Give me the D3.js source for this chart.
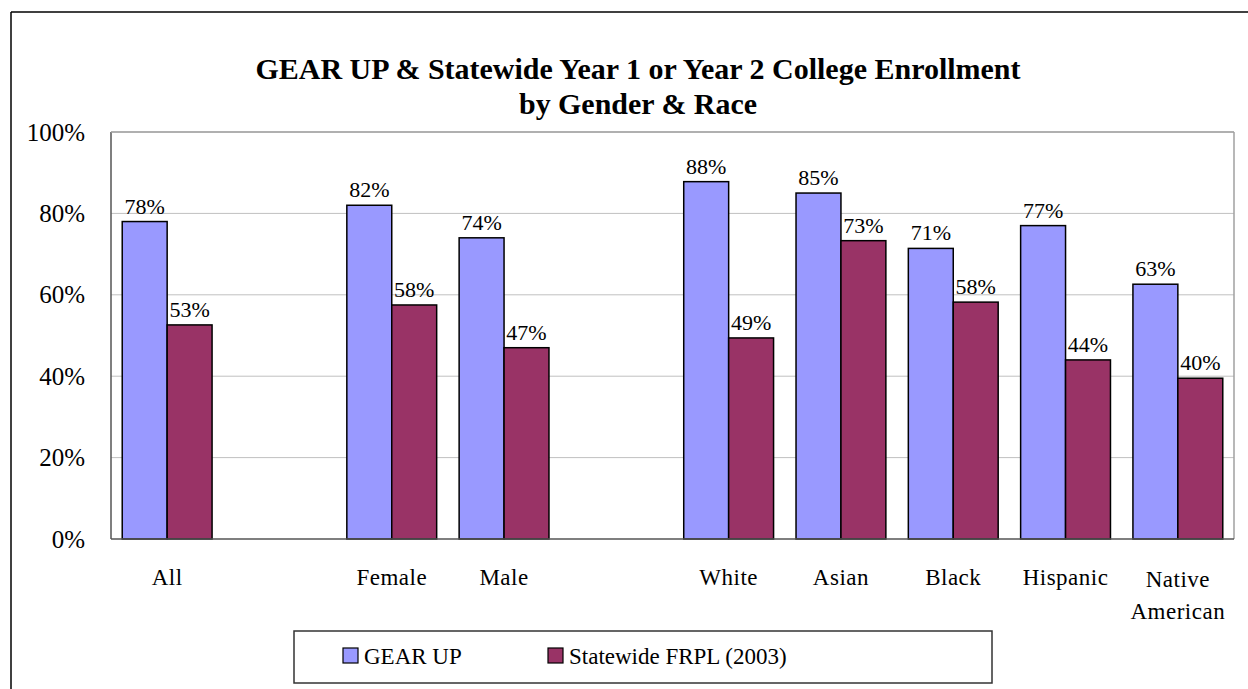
<!DOCTYPE html>
<html>
<head>
<meta charset="utf-8">
<script src="https://cdn.jsdelivr.net/npm/d3@7"></script>
<style>
  html, body { margin: 0; padding: 0; background: #fff; }
  svg { display: block; font-family: 'Liberation Serif', serif; }
  svg text { font-family: 'Liberation Serif', serif; fill: #000; }
</style>
</head>
<body>
<svg id="chart" width="1248" height="689"></svg>
<script>
// ---- data ----
const categories = ["All", "", "Female", "Male", "", "White", "Asian", "Black", "Hispanic", "Native American"];
const gearUp    = [78, null, 82, 74, null, 87.8, 85, 71.4, 77, 62.6];
const statewide = [52.6, null, 57.5, 47, null, 49.4, 73.3, 58.2, 44, 39.5];
const seriesNames = ["GEAR UP", "Statewide FRPL (2003)"];
const seriesColors = ["#9999FF", "#993366"];
const yTicks = [0, 20, 40, 60, 80, 100];
const titleLines = ["GEAR UP & Statewide Year 1 or Year 2 College Enrollment", "by Gender & Race"];

// ---- layout ----
const FONT = "'Liberation Serif', serif";
const svg = d3.select("#chart");
const plot = { left: 111, right: 1234, top: 132, bottom: 539 };

const x = d3.scaleBand()
  .domain(d3.range(categories.length))
  .range([plot.left, plot.right])
  .paddingInner(0.2)
  .paddingOuter(0.1);
const xs = d3.scaleBand()
  .domain(d3.range(seriesNames.length))
  .range([0, x.bandwidth()]);
const y = d3.scaleLinear().domain([0, 100]).range([plot.bottom, plot.top]);

// outer frame (top + left edges)
svg.append("line").attr("x1", 11).attr("x2", 1248).attr("y1", 12).attr("y2", 12)
  .attr("stroke", "#000").attr("stroke-width", 1.5);
svg.append("line").attr("x1", 11).attr("x2", 11).attr("y1", 12).attr("y2", 689)
  .attr("stroke", "#000").attr("stroke-width", 1.5);

// title
svg.append("g").selectAll("text").data(titleLines).join("text")
  .attr("x", 638)
  .attr("y", (d, i) => 79 + i * 35)
  .attr("text-anchor", "middle")
  .attr("font-weight", "bold")
  .attr("font-size", 29)
  .attr("font-family", FONT)
  .attr("textLength", (d, i) => (i === 0 ? 765 : 238))
  .attr("lengthAdjust", "spacingAndGlyphs")
  .text(d => d);

// gridlines
svg.append("g").selectAll("line").data(yTicks.filter(t => t > 0)).join("line")
  .attr("x1", plot.left).attr("x2", plot.right)
  .attr("y1", d => y(d)).attr("y2", d => y(d))
  .attr("stroke", "#c0c0c0").attr("stroke-width", 1);

// plot border right edge
svg.append("line").attr("x1", plot.right).attr("x2", plot.right)
  .attr("y1", plot.top).attr("y2", plot.bottom)
  .attr("stroke", "#a0a0a0").attr("stroke-width", 1.5);

// y axis
const yAxis = svg.append("g")
  .attr("transform", `translate(${plot.left},0)`)
  .call(d3.axisLeft(y).tickValues(yTicks).tickFormat(d => d + "%").tickSize(0).tickPadding(26));
yAxis.attr("font-family", FONT);
yAxis.select(".domain").remove();
yAxis.selectAll("text").attr("font-size", 25).attr("fill", "#000");

// bars
const series = [gearUp, statewide];
const groups = svg.append("g").selectAll("g").data(series).join("g");
groups.each(function (vals, si) {
  const g = d3.select(this);
  const data = vals.map((v, i) => ({ v, i })).filter(d => d.v !== null);
  g.selectAll("rect").data(data).join("rect")
    .attr("x", d => x(d.i) + xs(si))
    .attr("y", d => y(d.v))
    .attr("width", xs.bandwidth())
    .attr("height", d => y(0) - y(d.v))
    .attr("fill", seriesColors[si])
    .attr("stroke", "#000").attr("stroke-width", 1.5);
  g.selectAll("text").data(data).join("text")
    .attr("x", d => x(d.i) + xs(si) + xs.bandwidth() / 2)
    .attr("y", d => y(d.v) - 8)
    .attr("text-anchor", "middle")
    .attr("font-size", 22)
    .text(d => Math.round(d.v) + "%");
});

// axis lines (left, top & bottom)
svg.append("line").attr("x1", plot.left).attr("x2", plot.left)
  .attr("y1", plot.top).attr("y2", plot.bottom)
  .attr("stroke", "#555").attr("stroke-width", 1.5);
svg.append("line").attr("x1", plot.left).attr("x2", plot.right)
  .attr("y1", plot.top).attr("y2", plot.top)
  .attr("stroke", "#a0a0a0").attr("stroke-width", 1.5);
svg.append("line").attr("x1", plot.left).attr("x2", plot.right)
  .attr("y1", plot.bottom).attr("y2", plot.bottom)
  .attr("stroke", "#555").attr("stroke-width", 1.5);

// category labels (multi-word labels wrap onto two lines)
const cat = svg.append("g").selectAll("text").data(categories.map((c, i) => ({ c, i })).filter(d => d.c))
  .join("text")
  .attr("x", d => x(d.i) + x.bandwidth() / 2)
  .attr("y", d => (d.c.includes(" ") ? 587 : 585))
  .attr("text-anchor", "middle")
  .attr("font-size", 23)
  .attr("letter-spacing", 0.5);
cat.each(function (d) {
  const t = d3.select(this);
  d.c.split(" ").forEach((w, k) => {
    t.append("tspan").attr("x", x(d.i) + x.bandwidth() / 2).attr("dy", k === 0 ? 0 : 32).text(w);
  });
});

// legend
const legend = svg.append("g");
legend.append("rect").attr("x", 294).attr("y", 631).attr("width", 698).attr("height", 52)
  .attr("fill", "#fff").attr("stroke", "#333").attr("stroke-width", 1.5);
const legX = [343, 548];
const li = legend.selectAll("g.item").data(seriesNames).join("g").attr("class", "item")
  .attr("transform", (d, i) => `translate(${legX[i]},648)`);
li.append("rect").attr("width", 15).attr("height", 15)
  .attr("fill", (d, i) => seriesColors[i]).attr("stroke", "#000").attr("stroke-width", 1.2);
li.append("text").attr("x", 21).attr("y", 16).attr("font-size", 23).text(d => d);
</script>
</body>
</html>
